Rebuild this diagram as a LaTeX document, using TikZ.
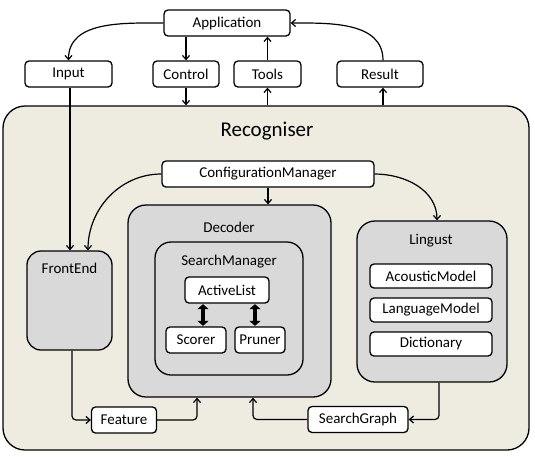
\documentclass[tikz,border=0pt]{standalone}
\usepackage{fontspec}
\setmainfont{Carlito}
\usetikzlibrary{arrows.meta}
\definecolor{outerbg}{HTML}{EEECE1}
\definecolor{innergray}{HTML}{D9D9D9}
\tikzset{
  box/.style={draw, line width=1.3pt, rounded corners=4pt, fill=white, inner sep=0pt, font=\fontsize{15}{17}\selectfont},
  container/.style={draw, line width=1.3pt, rounded corners=18pt, fill=innergray, inner sep=0pt},
  lbl/.style={inner sep=0pt, font=\fontsize{15}{17}\selectfont},
  conn/.style={line width=1.2pt, -{Straight Barb[length=4pt,width=7pt]}},
  fat/.style={line width=3.5pt, {Triangle[length=5pt,width=11pt]}-{Triangle[length=5pt,width=11pt]}, shorten <=0.5pt, shorten >=0.5pt}
}
\begin{document}
\begin{tikzpicture}[x=1pt,y=-1pt]
\useasboundingbox (0,0) rectangle (535,456);
% outer
\node[draw, line width=1.3pt, rounded corners=22pt, fill=outerbg, minimum width=526pt, minimum height=344pt, inner sep=0pt] (rec) at (266,278) {};
\node[inner sep=0pt, font=\fontsize{21}{24}\selectfont] (reclbl) at (267,131) {Recogniser};
% top boxes
\node[box, minimum width=126pt, minimum height=26pt] (app) at (227,23) {Application};
\node[box, minimum width=87pt, minimum height=26pt] (inp) at (68.5,74) {Input};
\node[box, minimum width=66pt, minimum height=26pt] (ctl) at (186,74) {Control};
\node[box, minimum width=67pt, minimum height=26pt] (tls) at (267.5,74) {Tools};
\node[box, minimum width=86pt, minimum height=26pt] (res) at (380,74) {Result};
% config
\node[box, minimum width=212pt, minimum height=26pt] (cfg) at (268,174) {ConfigurationManager};
% frontend
\node[container, rounded corners=14pt, minimum width=85pt, minimum height=99pt] (fe) at (69.5,300.5) {};
\node[lbl] (felbl) at (69.5,268) {FrontEnd};
% decoder
\node[container, minimum width=203pt, minimum height=192pt] (dec) at (229.5,301) {};
\node[lbl] (declbl) at (229,227) {Decoder};
\node[container, rounded corners=16pt, minimum width=148pt, minimum height=133pt] (sm) at (229,308.5) {};
\node[lbl] (smlbl) at (229,262) {SearchManager};
\node[box, minimum width=84pt, minimum height=26pt] (al) at (227,290) {ActiveList};
\node[box, minimum width=60pt, minimum height=26pt] (sc) at (196,340) {Scorer};
\node[box, minimum width=50pt, minimum height=26pt] (pr) at (260,340) {Pruner};
% lingust
\node[container, minimum width=150pt, minimum height=161pt] (lg) at (432,301.5) {};
\node[lbl] (lglbl) at (431,241) {Lingust};
\node[box, minimum width=122pt, minimum height=24pt] (am) at (431,276) {AcousticModel};
\node[box, minimum width=122pt, minimum height=24pt] (lm) at (431,310) {LanguageModel};
\node[box, minimum width=122pt, minimum height=24pt] (dic) at (431,344) {Dictionary};
% bottom
\node[box, minimum width=65pt, minimum height=26pt] (feat) at (124,420) {Feature};
\node[box, minimum width=100pt, minimum height=26pt] (sg) at (358,419.5) {SearchGraph};
% fat arrows
\draw[fat] (al.south -| 203,0) -- (sc.north -| 203,0);
\draw[fat] (al.south -| 255,0) -- (pr.north -| 255,0);
% top connectors
\draw[conn] (app.west) to[out=180,in=90] (inp.north);
\draw[conn] (app.south -| ctl.north) -- (ctl.north);
\draw[conn] (ctl.south) -- (ctl.south |- rec.north);
\draw[conn] (tls.south |- rec.north) -- (tls.south);
\draw[conn] (tls.north) -- (tls.north |- app.south);
\coordinate (rs) at (res.south -| 383,0);
\draw[conn] (rs |- rec.north) -- (rs);
\draw[conn] (res.north -| 383,0) to[out=90,in=0] (app.east);
% inside
\draw[conn] (inp.south -| 70,0) -- (fe.north -| 70,0);
\draw[conn] (cfg.west) to[out=180,in=90] (fe.north -| 88,0);
\draw[conn] (cfg.south) -- (cfg.south |- dec.north);
\draw[conn] (cfg.east) to[out=0,in=90] (lg.north -| 437,0);
\draw[conn, rounded corners=4pt] (fe.south -| 72,0) |- (feat.west);
\draw[conn, rounded corners=4pt] (feat.east) -| (dec.south -| 197,0);
\draw[conn, rounded corners=4pt] (sg.west) -| (dec.south -| 253,0);
\draw[conn, rounded corners=4pt] (lg.south -| 439,0) |- (sg.east);
\end{tikzpicture}
\end{document}
